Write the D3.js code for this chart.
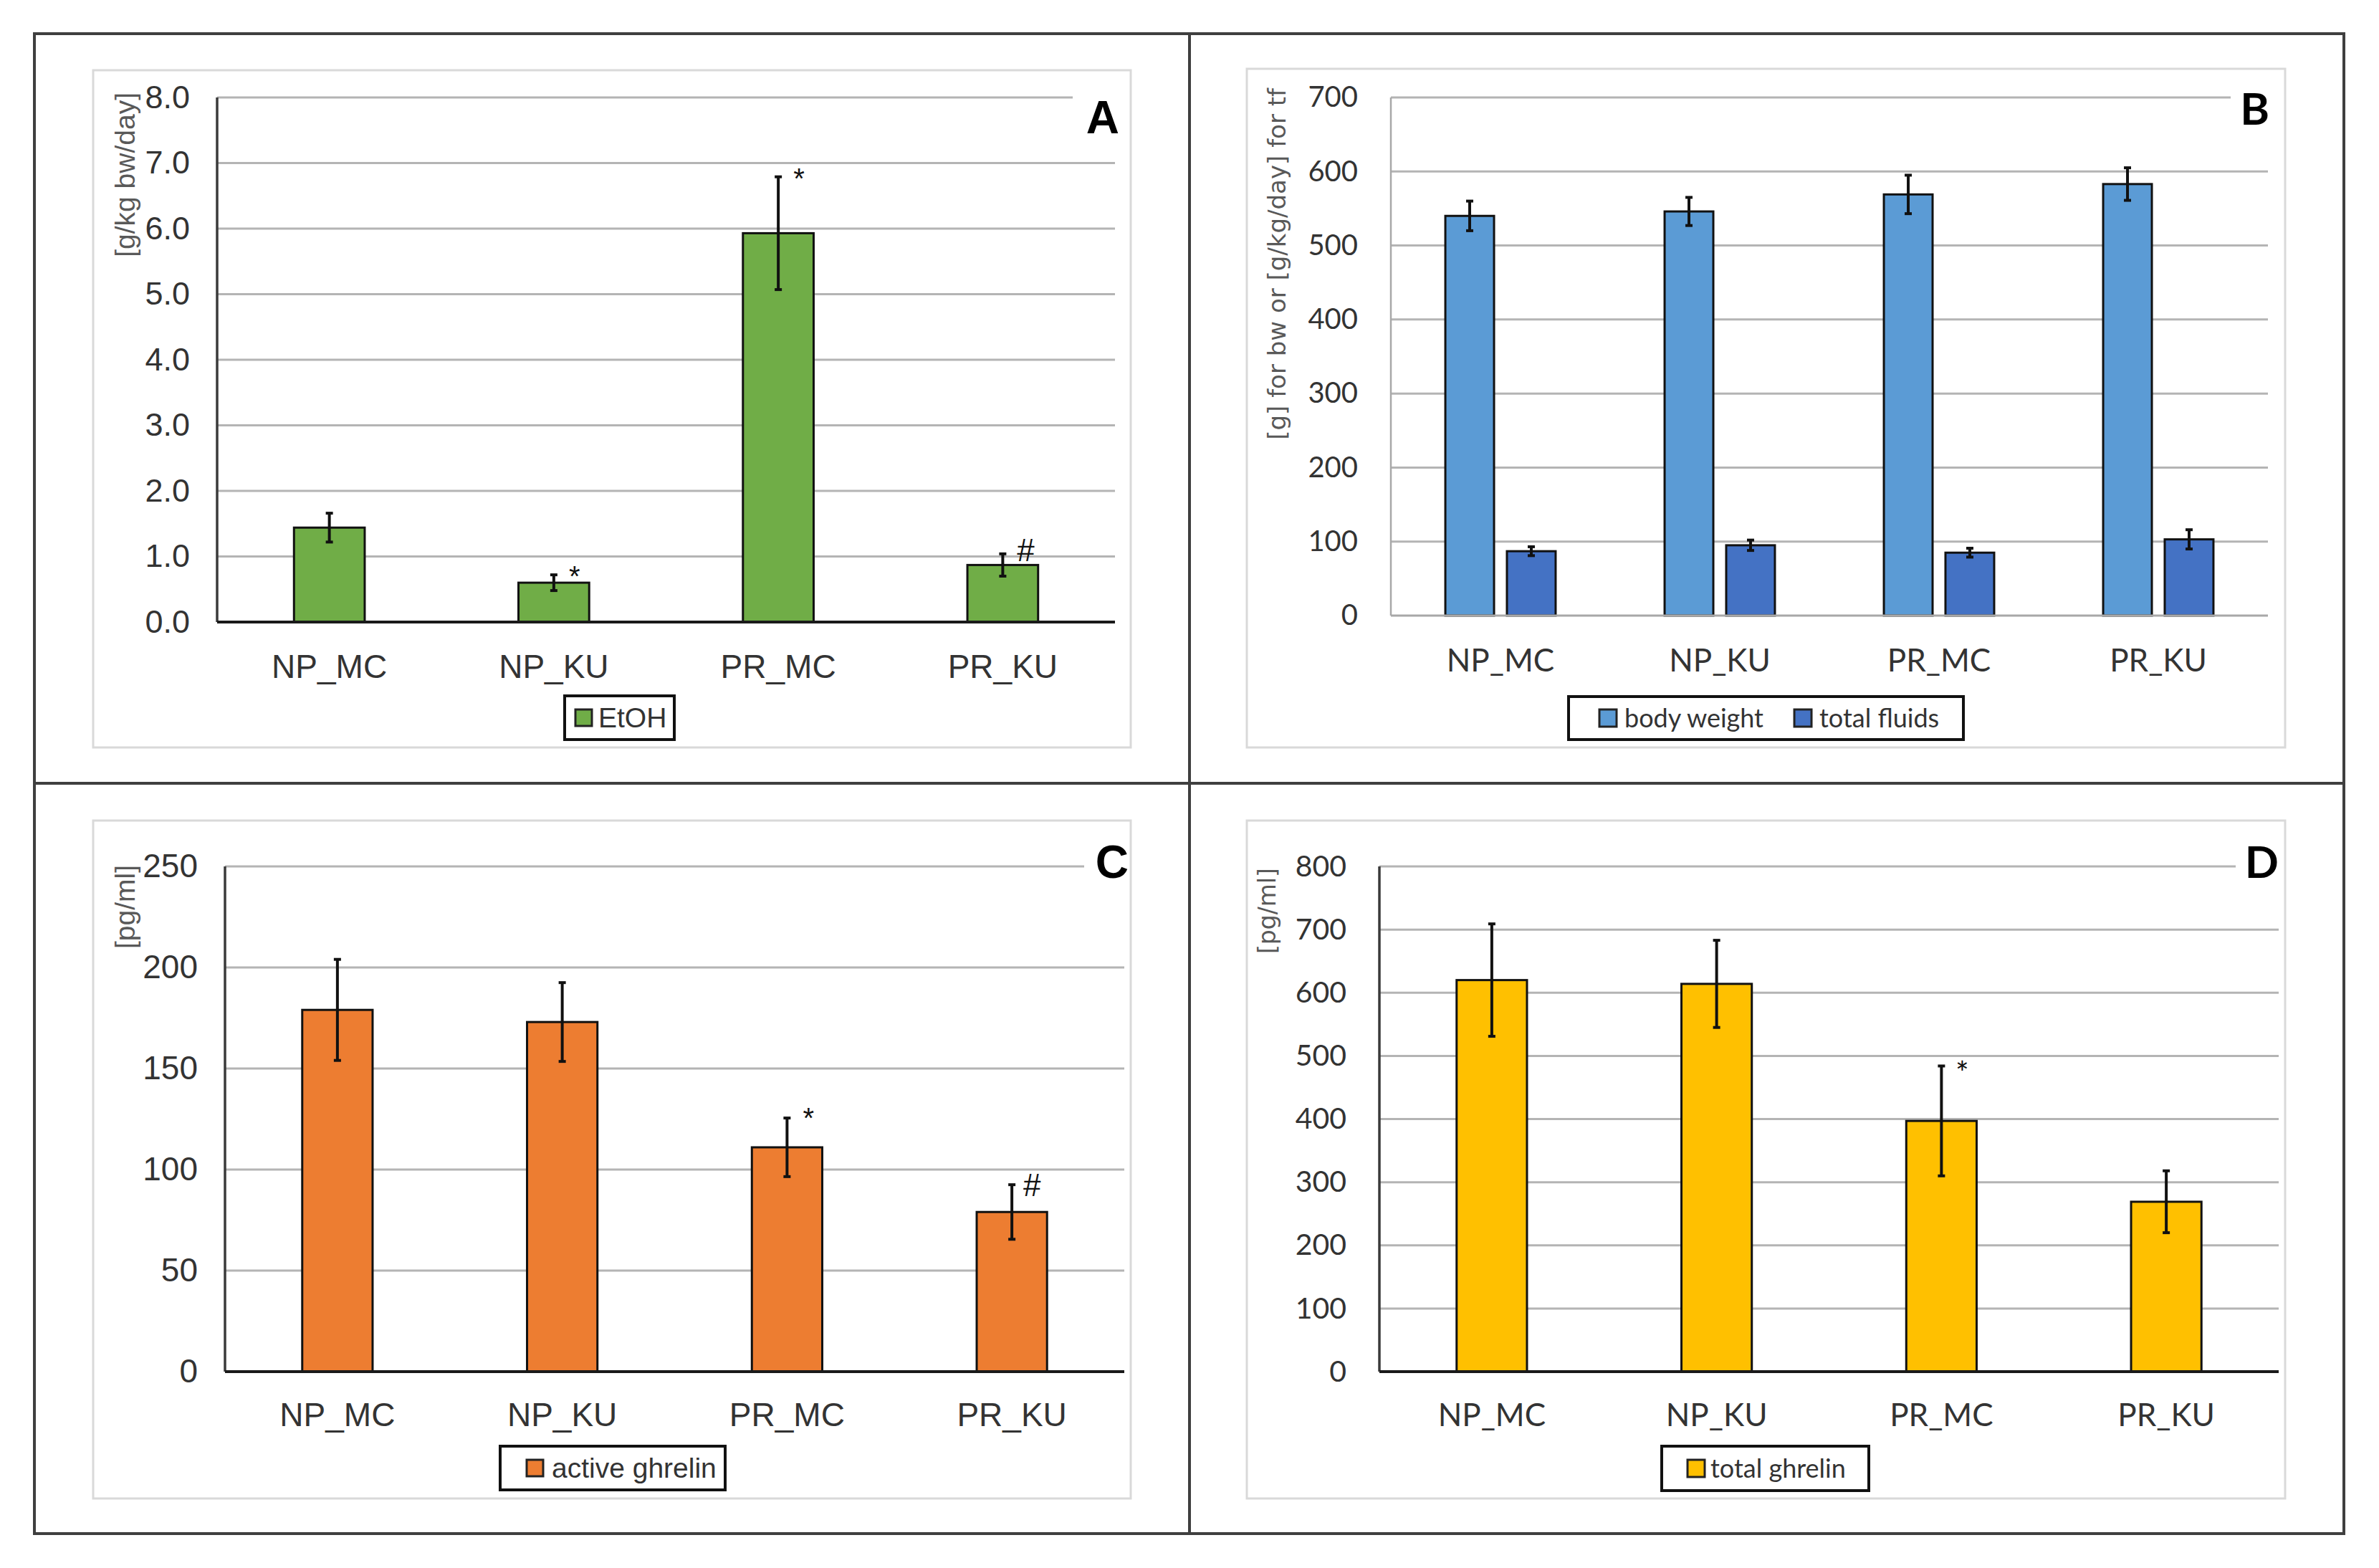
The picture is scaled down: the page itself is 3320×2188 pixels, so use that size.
<!DOCTYPE html>
<html>
<head>
<meta charset="utf-8">
<script src="https://cdn.jsdelivr.net/npm/d3@7"></script>
<style>
body { margin: 0; background: #fff; }
svg { display: block; }
</style>
</head>
<body>
<div id="fig"></div>
<script>
// categories shared by all four panels
var categories = ["NP_MC", "NP_KU", "PR_MC", "PR_KU"];

// A - EtOH intake [g/kg bw/day]
var etohMean = [1.44, 0.60, 5.93, 0.87];
var etohErr = [0.22, 0.12, 0.86, 0.17];
var etohSig = ["", "*", "*", "#"];
var ticksA = [0, 1, 2, 3, 4, 5, 6, 7, 8];

// B - body weight [g] and total fluids [g/kg/day]
var bodyWeightMean = [540, 546, 569, 583];
var bodyWeightErr = [20, 19, 26, 22];
var fluidsMean = [87, 95, 85, 103];
var fluidsErr = [6, 7, 6, 13];
var ticksB = [0, 100, 200, 300, 400, 500, 600, 700];

// C - active ghrelin [pg/ml]
var activeMean = [179, 173, 111, 79];
var activeErr = [25, 19.5, 14.5, 13.5];
var activeSig = ["", "", "*", "#"];
var ticksC = [0, 50, 100, 150, 200, 250];

// D - total ghrelin [pg/ml]
var totalMean = [620, 614, 397, 269];
var totalErr = [89, 69, 87, 49];
var totalSig = ["", "", "*", ""];
var ticksD = [0, 100, 200, 300, 400, 500, 600, 700, 800];

var W = 3320, H = 2188;
var ARIAL = "'Liberation Sans', Arial, sans-serif";
var CALI = "Lato, 'Open Sans', sans-serif";
var VERD = "'DejaVu Sans', Verdana, sans-serif";

var svg = d3.select("#fig").append("svg")
  .attr("width", W)
  .attr("height", H);

svg.append("rect").attr("width", W).attr("height", H).attr("fill", "#fff");

var panels = [
  {
    series: [{ name: "EtOH", mean: etohMean, err: etohErr, color: "#70ad47" }],
    sig: etohSig, ticks: ticksA, fmt: d3.format(".1f"),
    box: [130, 98, 1578, 1043], left: 303, right: 1556, top: 136, bottom: 868, topGridEnd: 1497,
    pad: 0.685, innerPad: 0,
    font: ARIAL, tickSize: 45, tickPad: 38, labelSize: 46, labelPad: 45,
    axisColor: "#3a3a3a", xAxisColor: "#1a1a1a", axisWidth: 4,
    title: "[g/kg bw/day]", titleFont: ARIAL, titleSize: 39, titleX: 188, titleEnd: 129,
    letter: "A", letterFont: ARIAL, letterSize: 64, letterX: 1562, letterY: 186,
    legend: [788, 971, 153, 61], legPad: 15, swatch: 23, swGap: 9, itemGap: 40, legSize: 39,
    starSize: 40, starDx: 29, starDy: 16, hashSize: 44, hashDx: 32, hashDy: 10
  },
  {
    series: [
      { name: "body weight", mean: bodyWeightMean, err: bodyWeightErr, color: "#5b9bd5" },
      { name: "total fluids", mean: fluidsMean, err: fluidsErr, color: "#4472c4" }
    ],
    sig: ["", "", "", ""], ticks: ticksB, fmt: d3.format("d"),
    box: [1740, 96, 3189, 1043], left: 1941, right: 3165, top: 136, bottom: 859, topGridEnd: 3113,
    pad: 0.497, innerPad: 0.209,
    font: CALI, tickSize: 40, tickPad: 46, labelSize: 44, labelPad: 47,
    axisColor: "#a8a8a8", xAxisColor: "#a8a8a8", axisWidth: 3,
    title: "[g] for bw or [g/kg/day] for tf", titleFont: VERD, titleSize: 34, titleX: 1794, titleEnd: 123,
    letter: "B", letterFont: CALI, letterSize: 62, letterX: 3167, letterY: 174,
    legend: [2189, 972, 551, 60], legPad: 43, swatch: 24, swGap: 11, itemGap: 43, legSize: 36,
    starSize: 40, starDx: 29, starDy: 16, hashSize: 44, hashDx: 32, hashDy: 10
  },
  {
    series: [{ name: "active ghrelin", mean: activeMean, err: activeErr, color: "#ed7d31" }],
    sig: activeSig, ticks: ticksC, fmt: d3.format("d"),
    box: [130, 1145, 1578, 2091], left: 314, right: 1569, top: 1209, bottom: 1914, topGridEnd: 1513,
    pad: 0.687, innerPad: 0,
    font: ARIAL, tickSize: 46, tickPad: 38, labelSize: 46, labelPad: 43,
    axisColor: "#3a3a3a", xAxisColor: "#1a1a1a", axisWidth: 4,
    title: "[pg/ml]", titleFont: ARIAL, titleSize: 39, titleX: 188, titleEnd: 1207,
    letter: "C", letterFont: ARIAL, letterSize: 64, letterX: 1575, letterY: 1225,
    legend: [698, 2018, 314, 61], legPad: 37, swatch: 23, swGap: 12, itemGap: 40, legSize: 39,
    starSize: 40, starDx: 30, starDy: 14, hashSize: 44, hashDx: 28, hashDy: 16
  },
  {
    series: [{ name: "total ghrelin", mean: totalMean, err: totalErr, color: "#ffc000" }],
    sig: totalSig, ticks: ticksD, fmt: d3.format("d"),
    box: [1740, 1145, 3189, 2091], left: 1925, right: 3180, top: 1209, bottom: 1914, topGridEnd: 3120,
    pad: 0.687, innerPad: 0,
    font: CALI, tickSize: 41, tickPad: 46, labelSize: 44, labelPad: 45,
    axisColor: "#3a3a3a", xAxisColor: "#1a1a1a", axisWidth: 4,
    title: "[pg/ml]", titleFont: VERD, titleSize: 33, titleX: 1780, titleEnd: 1211,
    letter: "D", letterFont: CALI, letterSize: 62, letterX: 3180, letterY: 1225,
    legend: [2319, 2018, 289, 62], legPad: 36, swatch: 24, swGap: 8, itemGap: 40, legSize: 36,
    starSize: 44, starDx: 29, starDy: 26, hashSize: 44, hashDx: 32, hashDy: 10
  }
];

panels.forEach(drawPanel);

// outer frame with dividers
var frame = svg.append("g").attr("stroke", "#3f3f3f").attr("stroke-width", 4).attr("fill", "none");
frame.append("rect").attr("x", 48).attr("y", 47).attr("width", 3271 - 48).attr("height", 2140 - 47);
frame.append("line").attr("x1", 1660).attr("x2", 1660).attr("y1", 47).attr("y2", 2140);
frame.append("line").attr("x1", 48).attr("x2", 3271).attr("y1", 1093).attr("y2", 1093);

function drawPanel(p) {
  var g = svg.append("g");

  // chart area border
  g.append("rect")
    .attr("x", p.box[0]).attr("y", p.box[1])
    .attr("width", p.box[2] - p.box[0]).attr("height", p.box[3] - p.box[1])
    .attr("fill", "none").attr("stroke", "#d9d9d9").attr("stroke-width", 3);

  var yMax = d3.max(p.ticks);
  var y = d3.scaleLinear().domain([0, yMax]).range([p.bottom, p.top]);
  var x0 = d3.scaleBand().domain(categories).range([p.left, p.right])
    .paddingInner(p.pad).paddingOuter(p.pad / 2);
  var x1 = d3.scaleBand().domain(d3.range(p.series.length)).range([0, x0.bandwidth()])
    .paddingInner(p.innerPad);

  // gridlines
  g.selectAll(".grid")
    .data(p.ticks.filter(d => d > 0))
    .enter().append("line")
    .attr("class", "grid")
    .attr("x1", p.left)
    .attr("x2", d => d === yMax ? p.topGridEnd : p.right)
    .attr("y1", d => y(d)).attr("y2", d => y(d))
    .attr("stroke", "#b4b4b4").attr("stroke-width", 3);

  // y tick labels
  var ya = g.append("g")
    .attr("transform", `translate(${p.left},0)`)
    .call(d3.axisLeft(y).tickValues(p.ticks).tickSize(0).tickPadding(p.tickPad).tickFormat(p.fmt));
  ya.select(".domain").remove();
  ya.attr("font-family", p.font).attr("font-size", p.tickSize);
  ya.selectAll("text").attr("fill", "#333");

  // x labels
  var xa = g.append("g")
    .attr("transform", `translate(0,${p.bottom})`)
    .call(d3.axisBottom(x0).tickSize(0).tickPadding(p.labelPad));
  xa.select(".domain").remove();
  xa.attr("font-family", p.font).attr("font-size", p.labelSize);
  xa.selectAll("text").attr("fill", "#333");

  // bars and error bars
  p.series.forEach(function(s, si) {
    var rows = categories.map((c, i) => ({ cat: c, mean: s.mean[i], err: s.err[i] }));

    g.selectAll(".bar" + si)
      .data(rows)
      .enter().append("rect")
      .attr("x", d => x0(d.cat) + x1(si))
      .attr("y", d => y(d.mean))
      .attr("width", x1.bandwidth())
      .attr("height", d => p.bottom - y(d.mean))
      .attr("fill", s.color)
      .attr("stroke", "#111").attr("stroke-width", 3);

    var eb = g.selectAll(".err" + si)
      .data(rows)
      .enter().append("g");
    var cx = d => x0(d.cat) + x1(si) + x1.bandwidth() / 2;
    eb.append("line")
      .attr("x1", cx).attr("x2", cx)
      .attr("y1", d => y(d.mean - d.err)).attr("y2", d => y(d.mean + d.err))
      .attr("stroke", "#111").attr("stroke-width", 4);
    [1, -1].forEach(function(sign) {
      eb.append("line")
        .attr("x1", d => cx(d) - 5).attr("x2", d => cx(d) + 5)
        .attr("y1", d => y(d.mean + sign * d.err)).attr("y2", d => y(d.mean + sign * d.err))
        .attr("stroke", "#111").attr("stroke-width", 4);
    });

    // significance marks
    if (si === 0) {
      g.selectAll(".sig")
        .data(rows.map((d, i) => Object.assign({ mark: p.sig[i] }, d)).filter(d => d.mark))
        .enter().append("text")
        .attr("x", d => cx(d) + (d.mark === "#" ? p.hashDx : p.starDx))
        .attr("y", d => y(d.mean + d.err) + (d.mark === "#" ? p.hashDy : p.starDy))
        .attr("text-anchor", "middle")
        .attr("font-family", p.font)
        .attr("font-size", d => d.mark === "#" ? p.hashSize : p.starSize)
        .attr("fill", "#111")
        .text(d => d.mark);
    }
  });

  // axis lines
  g.append("line")
    .attr("x1", p.left).attr("x2", p.left)
    .attr("y1", y(yMax)).attr("y2", p.bottom)
    .attr("stroke", p.axisColor).attr("stroke-width", p.axisWidth - 0.5);
  g.append("line")
    .attr("x1", p.left).attr("x2", p.right)
    .attr("y1", p.bottom).attr("y2", p.bottom)
    .attr("stroke", p.xAxisColor).attr("stroke-width", p.axisWidth);

  // y title
  g.append("text")
    .attr("transform", `translate(${p.titleX},${p.titleEnd}) rotate(-90)`)
    .attr("text-anchor", "end")
    .attr("font-family", p.titleFont)
    .attr("font-size", p.titleSize)
    .attr("fill", "#595959")
    .text(p.title);

  // panel letter
  g.append("text")
    .attr("x", p.letterX).attr("y", p.letterY)
    .attr("text-anchor", "end")
    .attr("font-family", p.letterFont)
    .attr("font-weight", "bold")
    .attr("font-size", p.letterSize)
    .attr("fill", "#000")
    .text(p.letter);

  // legend
  var lb = p.legend;
  var lg = g.append("g");
  lg.append("rect")
    .attr("x", lb[0]).attr("y", lb[1]).attr("width", lb[2]).attr("height", lb[3])
    .attr("fill", "#fff").attr("stroke", "#111").attr("stroke-width", 4);
  var cxL = lb[0] + p.legPad;
  var midY = lb[1] + lb[3] / 2;
  p.series.forEach(function(s) {
    lg.append("rect")
      .attr("x", cxL).attr("y", midY - p.swatch / 2)
      .attr("width", p.swatch).attr("height", p.swatch)
      .attr("fill", s.color).attr("stroke", "#222").attr("stroke-width", 3);
    var t = lg.append("text")
      .attr("x", cxL + p.swatch + p.swGap)
      .attr("y", midY)
      .attr("dy", "0.35em")
      .attr("font-family", p.font)
      .attr("font-size", p.legSize)
      .attr("fill", "#333")
      .text(s.name);
    cxL += p.swatch + p.swGap + t.node().getComputedTextLength() + p.itemGap;
  });
}
</script>
</body>
</html>
